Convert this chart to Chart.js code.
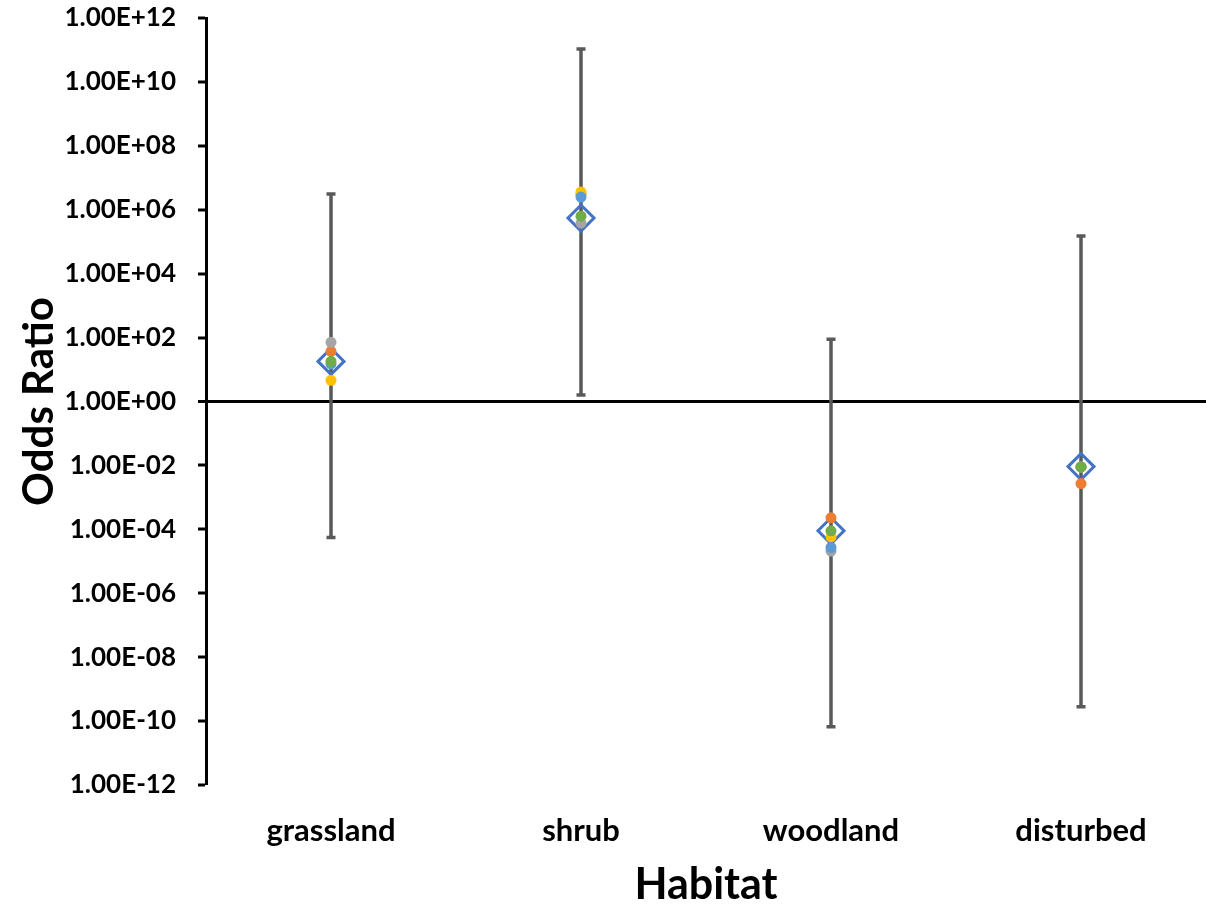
<!DOCTYPE html>
<html>
<head>
<meta charset="utf-8">
<title>Odds Ratio by Habitat</title>
<script src="https://cdn.jsdelivr.net/npm/chart.js@4.4.1/dist/chart.umd.min.js"></script>
<style>
  html, body { margin: 0; padding: 0; background: #ffffff; overflow: hidden; }
  #wrap { width: 1206px; height: 905px; }
  canvas { display: block; }
</style>
</head>
<body>
<div id="wrap"><canvas id="chart" width="1206" height="905"></canvas></div>
<script>
// Habitat categories
const habitats = ['grassland', 'shrub', 'woodland', 'disturbed'];

// Pooled odds ratio estimate with its confidence interval
const estimate = [18, 5.5e5, 9.0e-5, 9.2e-3];
const ciLower  = [5.6e-5, 1.6, 6.6e-11, 2.8e-10];
const ciUpper  = [3.1e6, 1.07e11, 89, 1.5e5];

// Individual model estimates
const modelB = [37, 3.0e6, 2.3e-4, 2.7e-3];
const modelC = [71, 3.8e5, 2.1e-5, 9.0e-3];
const modelD = [4.6, 3.6e6, 5.8e-5, 9.0e-3];
const modelE = [15, 2.5e6, 2.7e-5, 9.0e-3];
const modelF = [18, 6.3e5, 9.0e-5, 9.0e-3];

// Y axis ticks every two decades, from 1E-12 to 1E+12
const tickExponents = [-12, -10, -8, -6, -4, -2, 0, 2, 4, 6, 8, 10, 12];

function sciLabel(exp) {
  const sign = exp < 0 ? '-' : '+';
  const mag = String(Math.abs(exp)).padStart(2, '0');
  return '1.00E' + sign + mag;
}

const fontFamily = 'Lato, "Open Sans", "DejaVu Sans", sans-serif';

// Draws the confidence interval whiskers beneath the markers
const errorBarPlugin = {
  id: 'errorBars',
  beforeDatasetsDraw(chart) {
    const { ctx, scales: { x, y } } = chart;
    ctx.save();
    ctx.strokeStyle = '#595959';
    ctx.lineWidth = 3.5;
    ctx.lineCap = 'butt';
    const capHalf = 4.5;
    habitats.forEach((h, i) => {
      const px = x.getPixelForValue(i);
      const yTop = y.getPixelForValue(ciUpper[i]);
      const yBot = y.getPixelForValue(ciLower[i]);
      ctx.beginPath();
      ctx.moveTo(px, yTop);
      ctx.lineTo(px, yBot);
      ctx.moveTo(px - capHalf, yTop);
      ctx.lineTo(px + capHalf, yTop);
      ctx.moveTo(px - capHalf, yBot);
      ctx.lineTo(px + capHalf, yBot);
      ctx.stroke();
    });
    ctx.restore();
  }
};

function dotSeries(label, data, color) {
  return {
    label,
    data,
    showLine: false,
    pointStyle: 'circle',
    pointRadius: 5.5,
    pointBorderWidth: 0,
    pointBackgroundColor: color,
    pointBorderColor: color,
    borderColor: color,
    backgroundColor: color
  };
}

new Chart(document.getElementById('chart'), {
  type: 'line',
  data: {
    labels: habitats,
    // first dataset is painted last (on top)
    datasets: [
      dotSeries('Model F', modelF, '#70AD47'),
      dotSeries('Model E', modelE, '#5B9BD5'),
      dotSeries('Model D', modelD, '#FFC000'),
      dotSeries('Model C', modelC, '#A5A5A5'),
      dotSeries('Model B', modelB, '#ED7D31'),
      {
        label: 'Estimate',
        data: estimate,
        showLine: false,
        pointStyle: 'rectRot',
        pointRadius: 13,
        pointBorderWidth: 3,
        pointBorderColor: '#4472C4',
        pointBackgroundColor: 'rgba(0,0,0,0)',
        borderColor: '#4472C4',
        backgroundColor: 'rgba(0,0,0,0)'
      }
    ]
  },
  options: {
    responsive: false,
    animation: false,
    events: [],
    layout: { autoPadding: false, padding: { top: 18, right: 0, bottom: 0, left: 0 } },
    plugins: {
      legend: { display: false },
      tooltip: { enabled: false }
    },
    scales: {
      x: {
        type: 'category',
        offset: true,
        border: { display: false },
        grid: { display: false },
        ticks: {
          color: '#000000',
          padding: 19,
          font: { family: fontFamily, size: 31, weight: 'bold' }
        },
        title: {
          display: true,
          text: 'Habitat',
          color: '#000000',
          padding: { top: 0, bottom: -2 },
          font: { family: fontFamily, size: 43, weight: 'bold', lineHeight: 1.0 }
        },
        afterFit(scale) {
          scale.height = 120;
          scale.paddingLeft = 0;
          scale.paddingRight = 0;
        }
      },
      y: {
        type: 'logarithmic',
        min: 1e-12,
        max: 1e12,
        border: { display: true, color: '#000000', width: 3 },
        grid: {
          drawTicks: true,
          tickLength: 8,
          tickWidth: 3,
          tickColor: '#000000',
          color: (c) => (c.tick && c.tick.value === 1 ? '#000000' : 'rgba(0,0,0,0)'),
          lineWidth: (c) => (c.tick && c.tick.value === 1 ? 3 : 0)
        },
        afterBuildTicks(scale) {
          scale.ticks = tickExponents.map((e) => ({ value: Math.pow(10, e), major: false }));
        },
        ticks: {
          color: '#000000',
          padding: 22,
          autoSkip: false,
          font: { family: fontFamily, size: 26, weight: 'bold' },
          callback: (value) => sciLabel(Math.round(Math.log10(value)))
        },
        title: {
          display: true,
          text: 'Odds Ratio',
          color: '#000000',
          padding: { top: 18, bottom: 0 },
          font: { family: fontFamily, size: 42, weight: 'bold', lineHeight: 1.0 }
        },
        afterFit(scale) {
          scale.width = 206;
          scale.paddingTop = 0;
          scale.paddingBottom = 0;
        }
      }
    }
  },
  plugins: [errorBarPlugin]
});
</script>
</body>
</html>
